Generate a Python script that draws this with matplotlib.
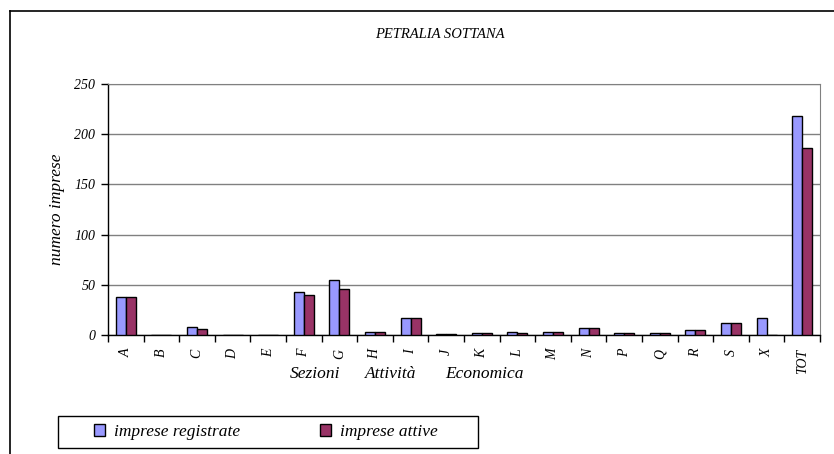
import numpy as np
import matplotlib.pyplot as plt
from matplotlib.lines import Line2D
from matplotlib.patches import Rectangle

plt.rcParams['font.family'] = ['Liberation Serif', 'DejaVu Serif']
plt.rcParams['font.style'] = 'italic'

# dati
sezioni = ['A', 'B', 'C', 'D', 'E', 'F', 'G', 'H', 'I', 'J', 'K', 'L', 'M',
           'N', 'P', 'Q', 'R', 'S', 'X', 'TOT']
registrate = [38, 0, 8, 0, 0, 43, 55, 3, 17, 1, 2, 3, 3, 7, 2, 2, 5, 12, 17, 218]
attive = [38, 0, 6, 0, 0, 40, 46, 3, 17, 1, 2, 2, 3, 7, 2, 2, 5, 12, 0, 186]

c_reg = '#9999FF'
c_att = '#993366'

fig = plt.figure(figsize=(8.34, 4.54), dpi=100)
ax = fig.add_axes([108/834, 1 - 335/454, 712/834, 251/454])

x = np.arange(len(sezioni))
w = 0.28
ax.bar(x - w/2, registrate, w, color=c_reg, edgecolor='black', linewidth=1, zorder=3)
ax.bar(x + w/2, attive, w, color=c_att, edgecolor='black', linewidth=1, zorder=3)

ax.set_xlim(-0.5, len(sezioni) - 0.5)
ax.set_ylim(0, 250)
ax.set_yticks(range(0, 251, 50))
ax.yaxis.grid(True, color='#808080', linewidth=1, zorder=0)

ax.set_xticks(x)
ax.set_xticklabels(sezioni, rotation=90, fontsize=10)
ax.set_xticks(np.arange(-0.5, len(sezioni)), minor=True)
ax.tick_params(axis='x', which='major', length=0, pad=10)
ax.tick_params(axis='x', which='minor', length=5, direction='out', width=1)
ax.tick_params(axis='y', length=5, direction='out', width=1, labelsize=10, pad=4)

for s in ['top', 'right']:
    ax.spines[s].set_color('#808080')
ax.spines['left'].set_linewidth(1)
ax.spines['bottom'].set_linewidth(1)

ax.set_ylabel('numero imprese', fontsize=12.5, labelpad=7)

# etichetta asse x spezzata
yl = 1 - 374/454
fig.text(290/834, yl, 'Sezioni', fontsize=12.5, va='center')
fig.text(365/834, yl, 'Attività', fontsize=12.5, va='center')
fig.text(445/834, yl, 'Economica', fontsize=12.5, va='center')

fig.text(440/834, 1 - 35/454, 'PETRALIA SOTTANA', fontsize=10.5, ha='center', va='center')

# cornice
fig.add_artist(Line2D([10/834, 10/834], [0, 1 - 11/454], color='black', linewidth=1.2))
fig.add_artist(Line2D([10/834, 1], [1 - 11/454, 1 - 11/454], color='black', linewidth=1.2))

# legenda
fig.add_artist(Rectangle((58/834, 1 - 448/454), 420/834, 32/454, transform=fig.transFigure,
                         facecolor='white', edgecolor='black', linewidth=1))
handles = [Rectangle((0, 0), 1, 1, facecolor=c_reg, edgecolor='black'),
           Rectangle((0, 0), 1, 1, facecolor=c_att, edgecolor='black')]
fig.legend(handles, ['imprese registrate', 'imprese attive'], ncol=2,
           loc='center left', bbox_to_anchor=(94/834, 1 - 432/454),
           fontsize=12.5, frameon=False, handlelength=0.65, handleheight=0.65,
           handletextpad=0.5, borderaxespad=0, borderpad=0, columnspacing=4.6)

fig.savefig('out.png', dpi=100)
